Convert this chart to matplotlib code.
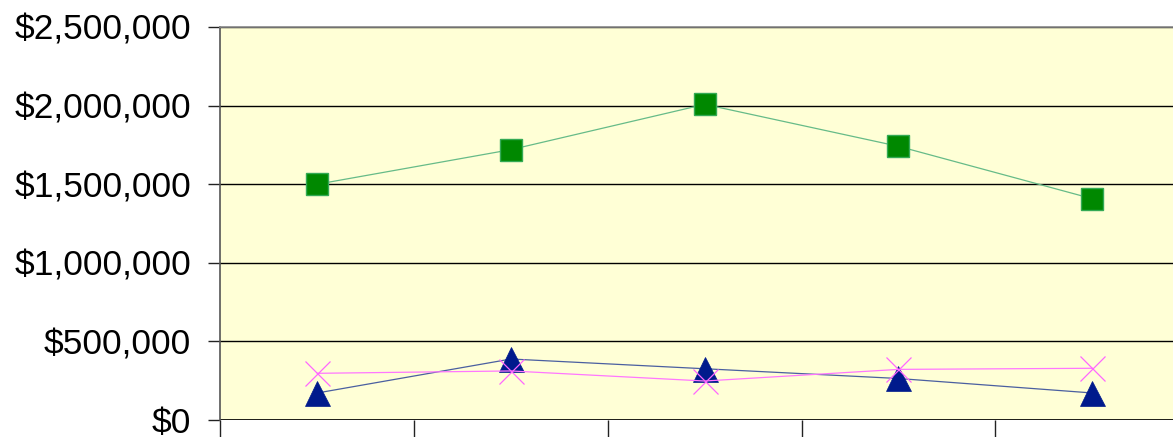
import matplotlib
matplotlib.use("Agg")
import matplotlib.pyplot as plt
from matplotlib.ticker import FuncFormatter, MultipleLocator

plt.rcParams['font.family'] = ['Liberation Sans', 'DejaVu Sans']

# five categories, no labels shown on the x axis
categories = [1, 2, 3, 4, 5]
green_squares = [1500000, 1720000, 2008000, 1741000, 1408000]
blue_triangles = [172000, 388000, 326000, 264000, 172000]
pink_crosses = [297000, 312000, 248000, 322000, 329000]

W, H = 1173, 437
fig = plt.figure(figsize=(W / 100, H / 100), dpi=100)
# plot area runs past the right edge of the picture, like the source
left, right, top, bottom = 220.5, 1189, 27, 420
ax = fig.add_axes([left / W, 1 - bottom / H, (right - left) / W, (bottom - top) / H])
ax.set_facecolor('#FFFFD6')

ax.set_xlim(0.5, 5.5)
ax.set_ylim(0, 2500000)
ax.yaxis.set_major_locator(MultipleLocator(500000))
ax.yaxis.set_major_formatter(FuncFormatter(lambda v, p: '${:,.0f}'.format(v)))
ax.set_xticks([0.5, 1.5, 2.5, 3.5, 4.5, 5.5])
ax.set_xticklabels([])

ax.grid(axis='y', color='black', linewidth=1.0)
ax.set_axisbelow(True)

for s in ['right', 'bottom']:
    ax.spines[s].set_visible(False)
ax.spines['left'].set_color('#555555')
ax.spines['left'].set_linewidth(1.2)
ax.spines['top'].set_color('#888888')
ax.spines['top'].set_linewidth(1.2)
ax.axhline(0, color='black', linewidth=1.2, zorder=1)

ax.tick_params(axis='y', length=9, width=1, color='#222222', labelsize=25.5, pad=12)
ax.tick_params(axis='x', length=14, width=1, color='#222222', direction='out')

ax.plot(categories, green_squares, color='#66BB88', linewidth=0.9,
        marker='s', markersize=15.5, markerfacecolor='#008800',
        markeredgecolor='#33AA55', markeredgewidth=1.0, zorder=3)
ax.plot(categories, blue_triangles, color='#4A5FA0', linewidth=0.9,
        marker='^', markersize=18, markerfacecolor='#001A8C',
        markeredgecolor='#001A8C', markeredgewidth=0.5, zorder=3)
ax.plot(categories, pink_crosses, color='#FF77FF', linewidth=0.9,
        marker='x', markersize=18, markeredgecolor='#FF66FF',
        markeredgewidth=0.9, zorder=4)

fig.savefig('out.png', dpi=100)
